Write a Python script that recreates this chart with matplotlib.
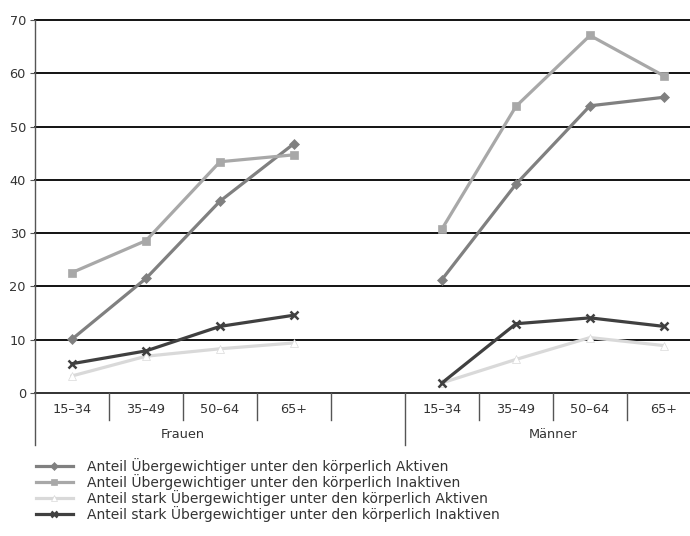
import matplotlib
matplotlib.use("Agg")
import matplotlib.pyplot as plt

plt.rcParams['font.family'] = ['DejaVu Sans']

age_groups = ["15–34", "35–49", "50–64", "65+"]
sex_groups = ["Frauen", "Männer"]

aktiv_f = [10.1, 21.5, 36.0, 46.8]
aktiv_m = [21.3, 39.2, 53.9, 55.5]
inaktiv_f = [22.6, 28.6, 43.4, 44.7]
inaktiv_m = [30.8, 53.8, 67.1, 59.5]
stark_aktiv_f = [3.2, 6.9, 8.3, 9.4]
stark_aktiv_m = [1.9, 6.3, 10.4, 8.9]
stark_inaktiv_f = [5.5, 7.9, 12.5, 14.6]
stark_inaktiv_m = [1.9, 13.0, 14.1, 12.5]

labels = [
    "Anteil Übergewichtiger unter den körperlich Aktiven",
    "Anteil Übergewichtiger unter den körperlich Inaktiven",
    "Anteil stark Übergewichtiger unter den körperlich Aktiven",
    "Anteil stark Übergewichtiger unter den körperlich Inaktiven",
]
yticks = [0, 10, 20, 30, 40, 50, 60, 70]

series = [(aktiv_f, aktiv_m, "#808080", "D", 5),
          (inaktiv_f, inaktiv_m, "#a8a8a8", "s", 5.5),
          (stark_aktiv_f, stark_aktiv_m, "#d9d9d9", "^", 6),
          (stark_inaktiv_f, stark_inaktiv_m, "#404040", "x", 6)]

W, H = 690, 536
fig = plt.figure(figsize=(W / 100, H / 100), dpi=100)
left, right, top, bottom = 35, 701, 20, 393
ax = fig.add_axes([left / W, 1 - bottom / H, (right - left) / W, (bottom - top) / H])

xf = list(range(4))
xm = list(range(5, 9))
handles = []
for f, m, c, mk, ms in series:
    for xs, vals in ((xf, f), (xm, m)):
        h, = ax.plot(xs, vals, color=c, lw=2.3, marker=mk, ms=ms, mew=1.8 if mk == "x" else 0.5,
                     mec=c, mfc=c if mk != "^" else "white", zorder=3, clip_on=False)
    handles.append(h)

ax.set_xlim(-0.5, 8.5)
ax.set_ylim(0, 70)
for y in yticks[1:]:
    ax.axhline(y, color="black", lw=1.3, zorder=1, clip_on=False)
ax.axhline(0, color="#222222", lw=1.3, zorder=1, clip_on=False)

for s in ["top", "right", "bottom"]:
    ax.spines[s].set_visible(False)
ax.spines["left"].set_color("#555555")
ax.spines["left"].set_linewidth(1.0)
ax.spines["left"].set_bounds(0, 70)

ax.set_yticks(yticks)
ax.tick_params(axis="y", length=3.5, color="#555555", labelcolor="#333333", labelsize=9.3, pad=3)

ax.set_xticks(xf + xm)
ax.set_xticklabels(age_groups * 2)
ax.tick_params(axis="x", length=0, labelcolor="#333333", labelsize=9.3, pad=7)

# category separators
tr = ax.get_xaxis_transform()
ph = bottom - top
short = -27 / ph
long_ = -52 / ph
for b in [0.5, 1.5, 2.5, 3.5, 5.5, 6.5, 7.5, 8.5]:
    ax.plot([b, b], [0, short], color="#555555", lw=1.0, transform=tr, clip_on=False)
for b in [-0.5, 4.5]:
    ax.plot([b, b], [0, long_], color="#555555", lw=1.0, transform=tr, clip_on=False)

ax.text(1.5, -41 / ph, sex_groups[0], transform=tr, ha="center", va="center",
        fontsize=9.3, color="#333333")
ax.text(6.5, -41 / ph, sex_groups[1], transform=tr, ha="center", va="center",
        fontsize=9.3, color="#333333")

leg = fig.legend(handles, labels, loc="upper left", bbox_to_anchor=(29 / W, 1 - 451 / H),
                 frameon=False, fontsize=10, handlelength=2.65, handletextpad=1.0,
                 labelspacing=0.0, borderpad=0, labelcolor="#333333")
for lh in leg.get_lines():
    lh.set_markersize(4)

fig.savefig("out.png", dpi=100)
